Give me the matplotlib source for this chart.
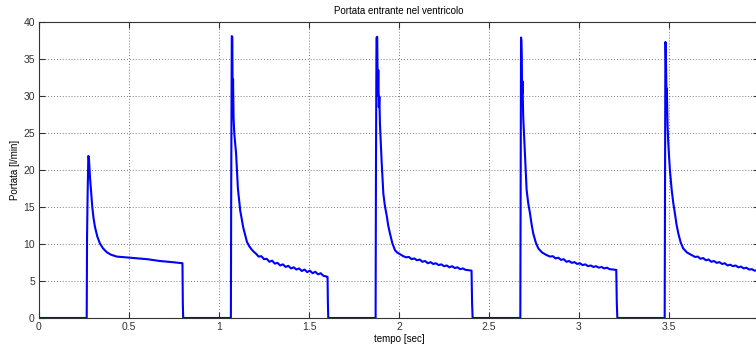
import matplotlib
matplotlib.use('Agg')
import matplotlib.pyplot as plt
import numpy as np

# battito 1
t1 = [0.0, 0.265, 0.267, 0.270, 0.274, 0.277, 0.283, 0.290, 0.296, 0.303, 0.311, 0.324, 0.339, 0.356,
      0.376, 0.40, 0.432, 0.506, 0.60, 0.672, 0.74, 0.797, 0.799, 0.801]
q1 = [0.0, 0.0, 11.0, 16.5, 21.9, 21.8, 19.1, 16.8, 15.0, 13.5, 12.3, 11.0, 10.05, 9.4,
      8.9, 8.55, 8.3, 8.15, 7.95, 7.7, 7.55, 7.4, 2.0, 0.0]

# battito 2
t2 = [1.064, 1.066, 1.068, 1.071, 1.074, 1.076, 1.078, 1.081, 1.085, 1.095, 1.105, 1.118, 1.135, 1.155,
      1.168, 1.18, 1.193, 1.205, 1.22, 1.235, 1.25, 1.265, 1.28, 1.295, 1.31, 1.325, 1.34, 1.355,
      1.37, 1.385, 1.40, 1.415, 1.43, 1.445, 1.46, 1.475, 1.49, 1.505, 1.52, 1.535, 1.55, 1.565,
      1.58, 1.598, 1.603, 1.605, 1.607]
q2 = [0.0, 0.0, 19.0, 38.1, 38.0, 28.0, 32.3, 27.0, 24.9, 22.2, 17.5, 14.5, 12.2, 10.3,
      9.7, 9.3, 8.95, 8.7, 8.3, 8.35, 7.95, 8.0, 7.6, 7.75, 7.35, 7.45, 7.1, 7.25,
      6.9, 7.05, 6.7, 6.85, 6.55, 6.7, 6.35, 6.55, 6.2, 6.4, 6.05, 6.25, 5.9, 6.05,
      5.7, 5.6, 5.55, 2.0, 0.0]

# battito 3
t3 = [1.868, 1.870, 1.872, 1.875, 1.879, 1.882, 1.885, 1.888, 1.891, 1.894, 1.904, 1.913, 1.922, 1.932,
      1.94, 1.95, 1.963, 1.978, 1.99, 2.0, 2.024, 2.04, 2.055, 2.07, 2.085, 2.10, 2.115, 2.13,
      2.145, 2.16, 2.175, 2.19, 2.205, 2.22, 2.235, 2.25, 2.265, 2.28, 2.295, 2.31, 2.325, 2.34,
      2.355, 2.37, 2.39, 2.403, 2.406, 2.409]
q3 = [0.0, 0.0, 20.0, 37.9, 38.0, 30.0, 33.5, 28.5, 29.9, 26.3, 20.9, 16.8, 15.1, 13.8,
      12.5, 11.4, 10.1, 9.15, 8.85, 8.7, 8.35, 8.2, 8.25, 7.95, 8.05, 7.8, 7.9, 7.6,
      7.7, 7.4, 7.55, 7.3, 7.4, 7.15, 7.25, 7.0, 7.1, 6.85, 7.0, 6.75, 6.85, 6.6,
      6.7, 6.5, 6.45, 6.4, 2.0, 0.0]

# battito 4
t4 = [2.672, 2.674, 2.676, 2.678, 2.680, 2.682, 2.684, 2.686, 2.690, 2.700, 2.709, 2.718, 2.728, 2.737,
      2.746, 2.76, 2.774, 2.795, 2.82, 2.84, 2.855, 2.87, 2.885, 2.90, 2.915, 2.93, 2.945, 2.96,
      2.975, 2.99, 3.005, 3.02, 3.035, 3.05, 3.065, 3.08, 3.095, 3.11, 3.125, 3.14, 3.155, 3.17,
      3.19, 3.207, 3.210, 3.213]
q4 = [0.0, 0.0, 18.0, 37.9, 37.5, 35.3, 30.3, 32.0, 27.2, 22.0, 17.3, 15.5, 14.1, 12.6,
      11.4, 10.2, 9.4, 8.85, 8.5, 8.3, 8.35, 8.05, 8.15, 7.85, 7.95, 7.6, 7.7, 7.45,
      7.55, 7.3, 7.4, 7.15, 7.25, 7.0, 7.1, 6.9, 7.0, 6.8, 6.9, 6.7, 6.8, 6.6,
      6.55, 6.5, 2.0, 0.0]

# battito 5
t5 = [3.474, 3.476, 3.478, 3.480, 3.482, 3.484, 3.486, 3.488, 3.492, 3.496, 3.505, 3.515, 3.524, 3.533,
      3.542, 3.552, 3.565, 3.579, 3.60, 3.626, 3.645, 3.66, 3.675, 3.69, 3.705, 3.72, 3.735, 3.75,
      3.765, 3.78, 3.795, 3.81, 3.825, 3.84, 3.855, 3.87, 3.885, 3.90, 3.915, 3.93, 3.945, 3.96,
      3.975, 3.99, 4.0]
q5 = [0.0, 0.0, 20.0, 37.3, 37.0, 33.9, 29.9, 31.0, 26.0, 23.6, 20.0, 17.3, 15.5, 14.1,
      12.6, 11.4, 10.2, 9.4, 8.85, 8.5, 8.25, 8.3, 8.0, 8.1, 7.8, 7.9, 7.6, 7.7,
      7.45, 7.55, 7.3, 7.4, 7.1, 7.2, 7.0, 7.1, 6.85, 6.95, 6.7, 6.8, 6.55, 6.6,
      6.4, 6.45, 6.3]

tempo = np.concatenate([t1, t2, t3, t4, t5])
portata = np.concatenate([q1, q2, q3, q4, q5])

xticks = [0, 0.5, 1, 1.5, 2, 2.5, 3, 3.5]
xlabels = ['0', '0.5', '1', '1.5', '2', '2.5', '3', '3.5']
yticks = [0, 5, 10, 15, 20, 25, 30, 35, 40]

plt.rcParams['font.family'] = ['Liberation Sans', 'DejaVu Sans']

fig = plt.figure(figsize=(7.56, 3.45), dpi=100)
ax = fig.add_axes([39 / 756, 27 / 345, 720 / 756, 296 / 345])

ax.plot(tempo, portata, color='#0000ff', linewidth=1.5)

ax.set_xlim(0, 4)
ax.set_ylim(0, 40)
ax.set_xticks(xticks)
ax.set_xticklabels(xlabels)
ax.set_yticks(yticks)

ax.grid(True, color='#505050', linestyle=(0, (1, 2.5)), linewidth=0.6)
ax.tick_params(direction='in', length=4, width=0.8, labelsize=7.5,
               top=True, right=True, colors='#333333', pad=3)
for s in ax.spines.values():
    s.set_color('#333333')
    s.set_linewidth(0.8)

ax.set_title('Portata entrante nel ventricolo', fontsize=7, pad=6)
ax.set_xlabel('tempo [sec]', fontsize=7, labelpad=1)
ax.set_ylabel('Portata [l/min]', fontsize=7, labelpad=2)

fig.savefig('out.png', dpi=100)
